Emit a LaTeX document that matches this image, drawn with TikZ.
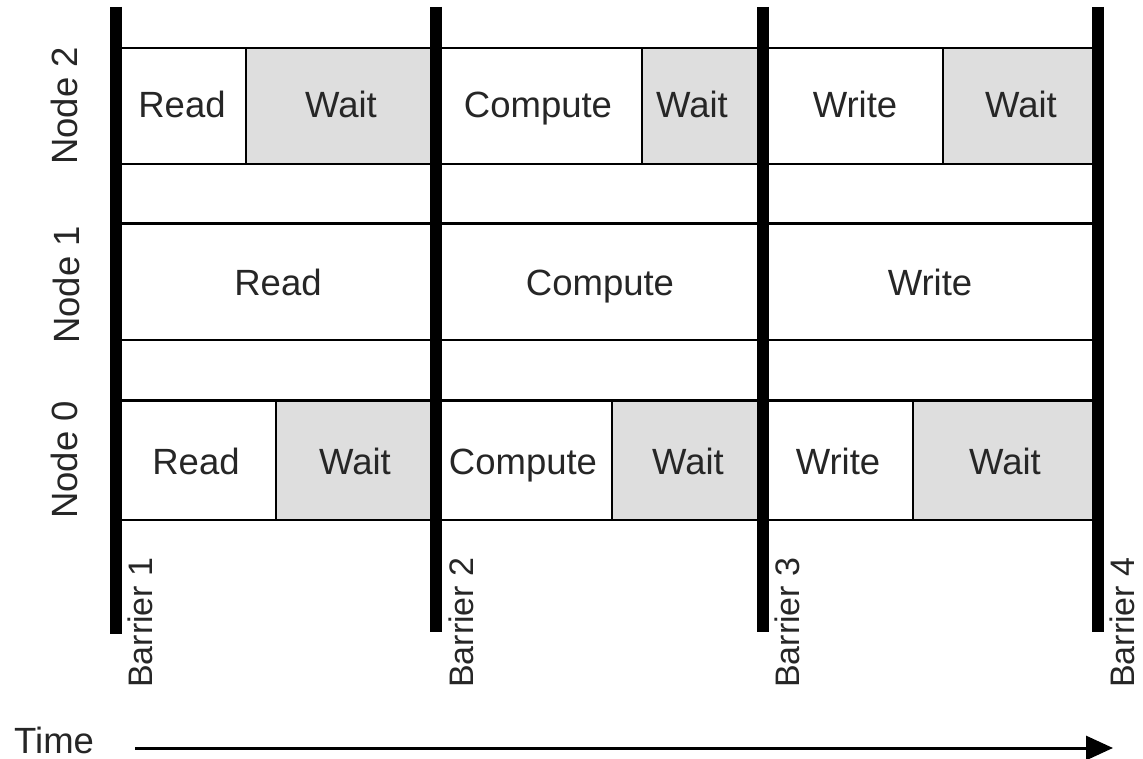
\documentclass[tikz,border=0pt]{standalone}
\usepackage{fontspec}
\setmainfont{Liberation Sans}
\usetikzlibrary{arrows.meta}
\begin{document}
\begin{tikzpicture}[x=1pt,y=-1pt,
  lbl/.style={font=\fontsize{36.5}{40}\selectfont, text=black!85, inner sep=0pt, text height=26pt, text depth=0pt},
  vlbl/.style={font=\fontsize{36.5}{40}\selectfont, text=black!85, inner sep=0pt, rotate=90, anchor=base},
  blbl/.style={font=\fontsize{34}{40}\selectfont, text=black!85, inner sep=0pt, rotate=90, anchor=base west},
  waitfill/.style={fill=black!13, draw=none},
  hline/.style={line width=2.8pt},
  divline/.style={line width=2.6pt},
  barrier/.style={line width=12pt},
  timearrow/.style={line width=3pt, -{Triangle[length=27pt,width=24pt]}}
]
\useasboundingbox (0,0) rectangle (1143,759);
% gray wait cells
\fill[waitfill] (246,48) rectangle (436,164);
\fill[waitfill] (642,48) rectangle (764,164);
\fill[waitfill] (943,48) rectangle (1098,164);
\fill[waitfill] (276,400.5) rectangle (436,520);
\fill[waitfill] (612,400.5) rectangle (764,520);
\fill[waitfill] (913,400.5) rectangle (1098,520);
% row lines
\foreach \y in {48,164,223.5,340,400.5,520}
  \draw[hline] (116,\y) -- (1098,\y);
% dividers
\foreach \x in {246,642,943}
  \draw[divline] (\x,48) -- (\x,164);
\foreach \x in {276,612,913}
  \draw[divline] (\x,400.5) -- (\x,520);
% barriers
\coordinate (b1t) at (116,7); \coordinate (b1b) at (116,634);
\coordinate (b2t) at (436,7); \coordinate (b2b) at (436,632);
\coordinate (b3t) at (763,7); \coordinate (b3b) at (763,632);
\coordinate (b4t) at (1098,7); \coordinate (b4b) at (1098,632);
\draw[barrier] (b1t) -- (b1b);
\draw[barrier] (b2t) -- (b2b);
\draw[barrier] (b3t) -- (b3b);
\draw[barrier] (b4t) -- (b4b);
% cell texts: node 2
\node[lbl] (n2r) at (182,105) {Read};
\node[lbl] (n2w1) at (341,105) {Wait};
\node[lbl] (n2c) at (538,105) {Compute};
\node[lbl] (n2w2) at (692,105) {Wait};
\node[lbl] (n2wr) at (855,105) {Write};
\node[lbl] (n2w3) at (1021,105) {Wait};
% node 1
\node[lbl] (n1r) at (278,282) {Read};
\node[lbl] (n1c) at (600,282) {Compute};
\node[lbl] (n1wr) at (930,282) {Write};
% node 0
\node[lbl] (n0r) at (196,461) {Read};
\node[lbl] (n0w1) at (355,461) {Wait};
\node[lbl] (n0c) at (523,461) {Compute};
\node[lbl] (n0w2) at (688,461) {Wait};
\node[lbl] (n0wr) at (838,461) {Write};
\node[lbl] (n0w3) at (1005,461) {Wait};
% row labels
\node[vlbl] (l2) at (77.5,106) {Node 2};
\node[vlbl] (l1) at (79,285) {Node 1};
\node[vlbl] (l0) at (77.5,460) {Node 0};
% barrier labels
\node[blbl] (bl1) at (152,688) {Barrier 1};
\node[blbl] (bl2) at (473,688) {Barrier 2};
\node[blbl] (bl3) at (799,688) {Barrier 3};
\node[blbl] (bl4) at (1134,688) {Barrier 4};
% time
\node[font=\fontsize{36.5}{40}\selectfont, text=black!85, inner sep=0pt, anchor=base west] (time) at (14,753) {Time};
\coordinate (ts) at (135,748);
\coordinate (te) at (1113,748);
\draw[timearrow] (ts) -- (te);
\end{tikzpicture}
\end{document}
